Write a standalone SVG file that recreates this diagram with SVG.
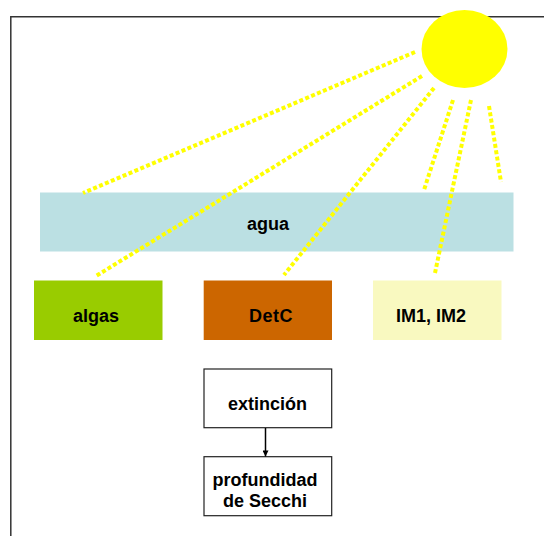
<svg xmlns="http://www.w3.org/2000/svg" width="544" height="536" viewBox="0 0 544 536">
  <style>
    .lbl { font-family: "Liberation Sans", Arial, sans-serif; font-weight: bold; font-size: 18px; fill: #000; text-anchor: middle; }
    .ray { stroke: #FFFF00; stroke-width: 4; stroke-dasharray: 4 2.4; fill: none; }
    .plain { fill: #fff; stroke: #222; stroke-width: 1.2; }
  </style>
  <defs>
    <marker id="arrowhead" viewBox="0 0 10 10" refX="10" refY="5" markerWidth="7" markerHeight="6" markerUnits="userSpaceOnUse" orient="auto">
      <path d="M0,0 L10,5 L0,10 z" fill="#000"/>
    </marker>
  </defs>

  <rect width="544" height="536" fill="#fff"/>

  <!-- frame -->
  <path d="M10.8,536 V16.8 H544" fill="none" stroke="#333" stroke-width="1.5"/>

  <g id="agua">
    <rect x="40" y="192.5" width="473.5" height="59" fill="#BBE0E3"/>
    <text class="lbl" x="268" y="229.5">agua</text>
  </g>

  <g id="algas">
    <rect x="34" y="280.5" width="128.5" height="59.5" fill="#99CC00"/>
    <text class="lbl" x="96" y="321.5">algas</text>
  </g>

  <g id="detc">
    <rect x="203.7" y="280.5" width="128.3" height="59.5" fill="#CC6600"/>
    <text class="lbl" x="271" y="321.5" letter-spacing="0.5">DetC</text>
  </g>

  <g id="im">
    <rect x="373" y="280.5" width="128.5" height="59.5" fill="#F9F9C0"/>
    <text class="lbl" x="431" y="321.5">IM1, IM2</text>
  </g>

  <g id="extincion">
    <rect class="plain" x="204" y="369" width="127.7" height="58.7"/>
    <text class="lbl" x="267.5" y="409.5">extinción</text>
  </g>

  <g id="secchi">
    <rect class="plain" x="204" y="456.7" width="127.7" height="59"/>
    <text class="lbl" x="265" y="485.5">profundidad</text>
    <text class="lbl" x="265" y="507">de Secchi</text>
  </g>

  <!-- light rays and the extinction arrow -->
  <g id="connectors">
    <line class="ray" x1="415" y1="52" x2="83" y2="193"/>
    <line class="ray" x1="422" y1="76" x2="96" y2="276"/>
    <line class="ray" x1="434" y1="88" x2="284" y2="275"/>
    <line class="ray" x1="453" y1="100" x2="424" y2="190"/>
    <line class="ray" x1="471" y1="100" x2="435" y2="273"/>
    <line class="ray" x1="489" y1="106" x2="501" y2="182"/>
    <line x1="265.5" y1="428" x2="265.5" y2="456.5" stroke="#000" stroke-width="1.5" marker-end="url(#arrowhead)"/>
  </g>

  <g id="sun">
    <ellipse cx="464.5" cy="49" rx="43" ry="39" fill="#FFFF00"/>
  </g>
</svg>
